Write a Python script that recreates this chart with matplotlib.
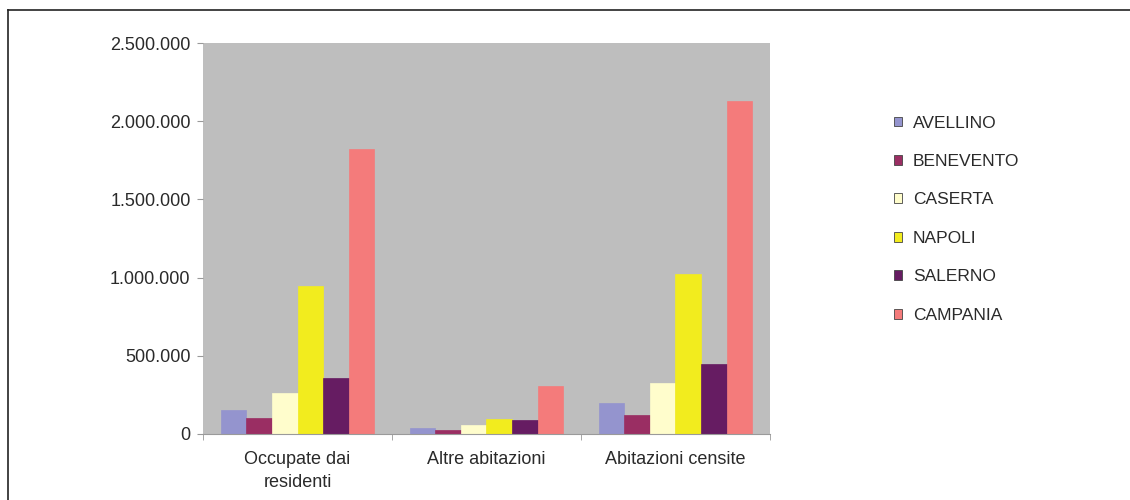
import matplotlib.pyplot as plt
import numpy as np
from matplotlib.lines import Line2D
from matplotlib.patches import Patch
from matplotlib.ticker import FuncFormatter

plt.rcParams['font.family'] = ['Liberation Sans', 'DejaVu Sans']

categories = ['Occupate dai\nresidenti', 'Altre abitazioni', 'Abitazioni censite']
province = ['AVELLINO', 'BENEVENTO', 'CASERTA', 'NAPOLI', 'SALERNO', 'CAMPANIA']

avellino = [151000, 36000, 196000]
benevento = [103000, 24000, 121000]
caserta = [264000, 57000, 328000]
napoli = [946000, 94000, 1023000]
salerno = [360000, 90000, 446000]
campania = [1822000, 307000, 2129000]

colors = ['#9494CE', '#9A2E63', '#FFFDCC', '#F2EC1E', '#661C62', '#F47B7B']

series = [avellino, benevento, caserta, napoli, salerno, campania]

fig = plt.figure(figsize=(11.3, 5), dpi=100)
ax = fig.add_axes([203/1130, 66/500, 567/1130, 391/500])
ax.set_facecolor('#BEBEBE')

x = np.arange(len(categories))
w = 0.135
for i, (vals, c) in enumerate(zip(series, colors)):
    ax.bar(x + (i - 2.5) * w, vals, width=w, color=c, edgecolor=c,
           linewidth=0.5, label=province[i])

ax.set_xlim(-0.5, 2.5)
ax.set_ylim(0, 2500000)
ax.set_yticks(np.arange(0, 2500001, 500000))
ax.yaxis.set_major_formatter(FuncFormatter(lambda v, p: f'{int(v):,}'.replace(',', '.')))
ax.set_xticks(x)
ax.set_xticklabels(categories, linespacing=1.45)
ax.set_xticks([-0.5, 0.5, 1.5, 2.5], minor=True)
ax.tick_params(axis='x', which='major', length=0, pad=12, labelsize=13, colors='#2a2a2a')
ax.tick_params(axis='x', which='minor', length=4, color='#999999')
ax.tick_params(axis='y', length=4, color='#999999', labelsize=13, labelcolor='#2a2a2a', pad=5)
for s in ['top', 'right', 'left']:
    ax.spines[s].set_visible(False)
ax.spines['bottom'].set_color('#9a9a9a')
ax.spines['bottom'].set_linewidth(0.8)

handles = [Patch(facecolor=c, edgecolor='#444444', linewidth=0.6) for c in colors]
fig.legend(handles, province, loc='upper left', bbox_to_anchor=(878/1130, 1 - 100/500),
           frameon=False, fontsize=12.5, handlelength=0.5, handleheight=0.5,
           handletextpad=0.6, labelspacing=1.35, labelcolor='#2a2a2a')

# page frame: left and top rules
fig.add_artist(Line2D([8/1130, 8/1130], [0, 1 - 10/500], color='#222222', lw=1.2))
fig.add_artist(Line2D([8/1130, 1], [1 - 10/500, 1 - 10/500], color='#222222', lw=1.2))

fig.savefig('out.png', dpi=100)
